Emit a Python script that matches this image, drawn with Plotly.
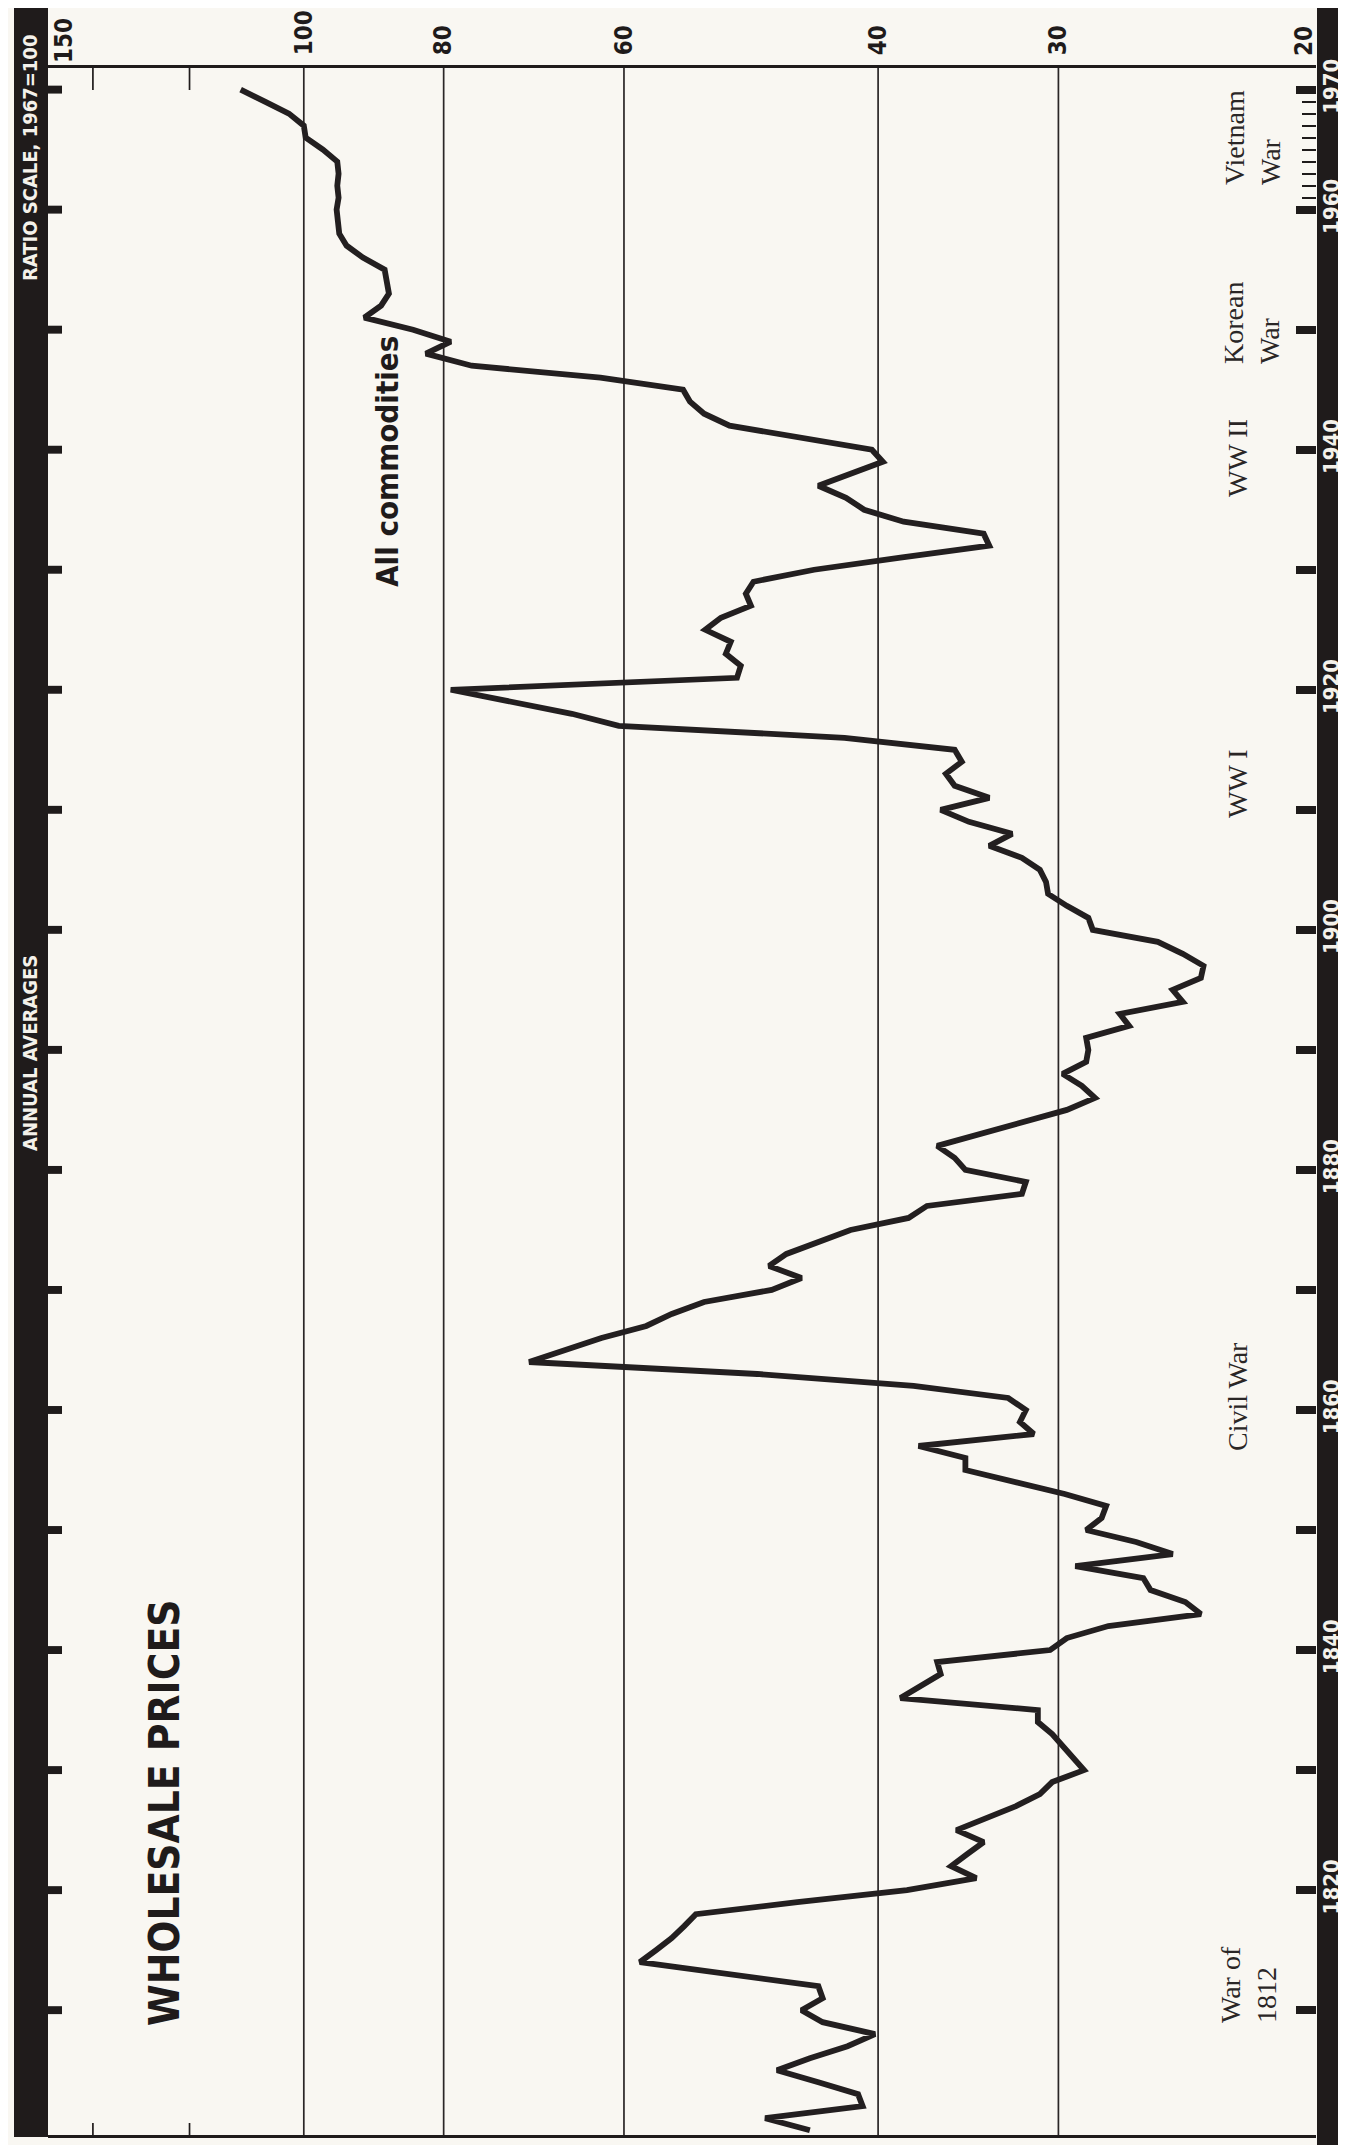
import math
import plotly.graph_objects as go

# ---------------- data ----------------
YEARS = list(range(1800, 1971))
ALL_COMMODITIES = [
    44.6, 47.9, 41.0, 41.3, 44.0, 47.0, 44.6, 42.0, 40.2, 43.7,   # 1800s
    45.2, 43.7, 44.0, 51.0, 58.5, 57.0, 55.6, 54.5, 53.5, 45.5,   # 1810s
    38.2, 34.2, 35.6, 34.7, 33.8, 35.3, 33.6, 32.1, 30.9, 30.3,   # 1820s
    28.8, 29.3, 29.8, 30.3, 31.0, 31.0, 38.6, 37.4, 36.2, 36.4,   # 1830s
    30.4, 29.6, 27.7, 23.9, 24.5, 25.9, 26.2, 29.2, 25.0, 26.5,   # 1840s
    28.7, 28.0, 27.8, 29.7, 32.2, 34.8, 34.8, 37.5, 31.2, 31.9,   # 1850s
    31.6, 32.5, 37.8, 48.5, 69.8, 65.9, 62.2, 57.9, 55.6, 52.8,   # 1860s
    47.4, 45.2, 47.6, 46.3, 43.9, 41.8, 38.1, 37.0, 31.8, 31.6,   # 1870s
    34.8, 35.4, 36.4, 34.0, 31.6, 29.6, 28.3, 28.9, 29.8, 28.7,   # 1880s
    28.6, 28.7, 26.8, 27.2, 24.6, 25.0, 23.9, 23.8, 24.6, 25.6,   # 1890s
    28.4, 28.6, 29.6, 30.5, 30.6, 30.9, 31.8, 33.5, 32.3, 34.6,   # 1900s
    36.2, 33.5, 35.4, 35.9, 35.0, 35.4, 42.2, 60.5, 65.2, 72.2,   # 1910s
    79.1, 50.1, 49.8, 51.0, 50.6, 52.7, 51.4, 49.0, 49.4, 48.8,   # 1920s
    44.3, 38.6, 33.5, 33.8, 38.4, 40.9, 42.1, 44.0, 41.7, 39.7,   # 1930s
    40.4, 45.0, 50.7, 52.8, 54.0, 54.6, 62.3, 76.5, 82.3, 79.1,   # 1940s
    84.0, 90.8, 88.4, 87.3, 87.5, 87.9, 91.0, 93.4, 94.5, 94.8,   # 1950s
    94.9, 94.6, 94.8, 94.6, 94.8, 97.0, 99.7, 100.0, 102.4, 106.4, 110.6,  # 1960-1970
]

VALUE_TICKS = [100, 80, 60, 40, 30]
VALUE_TICK_LABELS = ["100", "80", "60", "40", "30"]
EDGE_VALUE_LABELS = ["150", "20"]
GRID_VALUES = [100, 80, 60, 40, 30]
MINOR_VALUE_TICKS = [140, 120]

YEAR_TICKS = list(range(1810, 1971, 10))
YEAR_TICK_LABELS = [str(y) if (y % 20 == 0 or y == 1970) else "" for y in YEAR_TICKS]
MINOR_YEAR_TICKS = list(range(1961, 1970))

WAR_NAMES = ["Vietnam<br>War", "Korean<br>War", "WW II", "WW I", "Civil War", "War of<br>1812"]
SERIES_NAME = "All commodities"
TITLE = "WHOLESALE PRICES"
STRIP_TEXTS = ["RATIO SCALE, 1967=100", "ANNUAL AVERAGES"]

# ---------------- layout geometry (pixels) ----------------
W, H = 1346, 2145
PL, PR, PT, PB = 40, 1308, 60, 2127


def px_x(px):
    return (px - PL) / (PR - PL)


def px_y(py):
    return (PB - py) / (PB - PT)


INK = "#1f1b1b"
PAPER = "#f9f7f2"
NARROW = "Liberation Sans Narrow, Arial Narrow, DejaVu Sans Condensed, sans-serif"
SERIF = "Liberation Serif, Times New Roman, serif"

fig = go.Figure()
fig.add_trace(go.Scatter(
    x=ALL_COMMODITIES, y=YEARS, mode="lines",
    line=dict(color="#231f20", width=5.8),
    showlegend=False, hoverinfo="skip",
))

shapes = []
# gridlines
for v in GRID_VALUES:
    shapes.append(dict(type="line", xref="x", yref="paper", x0=v, x1=v, y0=0, y1=1,
                       line=dict(color="#2a2626", width=1.7), layer="below"))
# minor value ticks (top & bottom)
for v in MINOR_VALUE_TICKS:
    shapes.append(dict(type="line", xref="x", yref="paper", x0=v, x1=v,
                       y0=px_y(PT + 22), y1=1, line=dict(color=INK, width=1.7)))
    shapes.append(dict(type="line", xref="x", yref="paper", x0=v, x1=v,
                       y0=0, y1=px_y(PB - 12), line=dict(color=INK, width=1.7)))
# left dark strip
shapes.append(dict(type="rect", xref="paper", yref="paper",
                   x0=px_x(6), x1=px_x(PL), y0=px_y(PB + 2), y1=px_y(0),
                   fillcolor=INK, line=dict(width=0), layer="below"))
# right dark bar
shapes.append(dict(type="rect", xref="paper", yref="paper",
                   x0=px_x(PR + 1), x1=px_x(W + 2), y0=px_y(2140), y1=px_y(0),
                   fillcolor=INK, line=dict(width=0), layer="below"))
# decade notches on the left strip
for yr in YEAR_TICKS:
    shapes.append(dict(type="rect", xref="paper", yref="y",
                       x0=px_x(PL - 2), x1=px_x(PL + 14), y0=yr - 0.33, y1=yr + 0.33,
                       fillcolor=INK, line=dict(width=0), layer="above"))

annotations = []
annotations.append(dict(text=TITLE, xref="paper", yref="paper", x=px_x(156), y=px_y(1805),
                        textangle=-90, showarrow=False, xanchor="center", yanchor="middle",
                        font=dict(family=NARROW, size=42, color=INK, weight="bold")))
annotations.append(dict(text=SERIES_NAME, xref="paper", yref="paper", x=px_x(379), y=px_y(454),
                        textangle=-90, showarrow=False, xanchor="center", yanchor="middle",
                        font=dict(family=NARROW, size=31, color=INK, weight="bold")))
war_pos = [(1244, 130), (1244, 315), (1230, 450), (1230, 776), (1229, 1389), (1240, 1977)]
for name, (wx, wy) in zip(WAR_NAMES, war_pos):
    annotations.append(dict(text=name, xref="paper", yref="paper", x=px_x(wx), y=px_y(wy),
                            textangle=-90, showarrow=False, xanchor="center", yanchor="middle",
                            align="left",
                            font=dict(family=SERIF, size=28, color="#2a2626")))
strip_pos = [150, 1045]
for t, sy in zip(STRIP_TEXTS, strip_pos):
    annotations.append(dict(text=t, xref="paper", yref="paper", x=px_x(22), y=px_y(sy),
                            textangle=-90, showarrow=False, xanchor="center", yanchor="middle",
                            font=dict(family=NARROW, size=20, color="#f4f1ea", weight="bold")))
# labels at the two ends of the ratio scale
edge_pos = [(56, 33), (1296, 33)]
for t, (ex, ey) in zip(EDGE_VALUE_LABELS, edge_pos):
    annotations.append(dict(text=t, xref="paper", yref="paper", x=px_x(ex), y=px_y(ey),
                            textangle=-90, showarrow=False, xanchor="center", yanchor="middle",
                            font=dict(family=NARROW, size=24, color=INK, weight="bold")))

fig.update_layout(
    width=W, height=H,
    margin=dict(l=PL, r=W - PR, t=PT, b=H - PB, pad=0),
    paper_bgcolor=PAPER, plot_bgcolor=PAPER,
    shapes=shapes, annotations=annotations,
    xaxis=dict(
        type="log",
        range=[math.log10(150.4), math.log10(19.89)],
        side="top",
        tickvals=VALUE_TICKS, ticktext=VALUE_TICK_LABELS,
        tickangle=-90, ticks="",
        tickfont=dict(family=NARROW, size=24, color=INK, weight="bold"),
        ticklabelstandoff=5,
        showgrid=False, zeroline=False,
        showline=True, mirror=True, linecolor=INK, linewidth=3,
        automargin=False, fixedrange=True,
    ),
    yaxis=dict(
        range=[1799.6, 1971.8],
        side="right",
        tickvals=YEAR_TICKS, ticktext=YEAR_TICK_LABELS,
        tickangle=-90,
        ticks="inside", ticklen=20, tickwidth=8, tickcolor=INK,
        tickfont=dict(family=NARROW, size=22, color="#f4f1ea", weight="bold"),
        ticklabelstandoff=0,
        minor=dict(tickvals=MINOR_YEAR_TICKS, ticks="inside", ticklen=14,
                   tickwidth=2, tickcolor=INK),
        showgrid=False, zeroline=False, showline=False,
        automargin=False, fixedrange=True,
    ),
)

fig.write_html("out.html")
